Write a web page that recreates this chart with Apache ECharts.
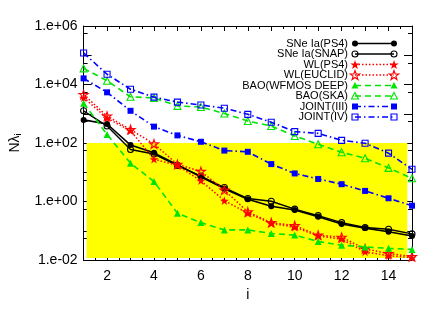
<!DOCTYPE html>
<html><head><meta charset="utf-8">
<script src="https://cdn.jsdelivr.net/npm/echarts@6/dist/echarts.min.js"></script>
<style>html,body{margin:0;padding:0;background:#fff}#c{width:436px;height:312px}</style>
</head><body><div id="c"></div>
<script>
// ---- data ----
const iValues = [1,2,3,4,5,6,7,8,9,10,11,12,13,14,15];
const seriesNames = ['SNe Ia(PS4)','SNe Ia(SNAP)','WL(PS4)','WL(EUCLID)','BAO(WFMOS DEEP)','BAO(SKA)','JOINT(III)','JOINT(IV)'];
const snePS4   = [617, 447, 85, 46, 18.2, 6.9, 2.75, 1.2, 0.69, 0.51, 0.30, 0.17, 0.123, 0.093, 0.066];
const sneSNAP  = [1260, 380, 60, 42, 17, 7.4, 3.0, 1.26, 1.02, 0.55, 0.33, 0.19, 0.129, 0.112, 0.078];
const wlPS4    = [3550, 708, 263, 28, 17, 5.1, 1.07, 0.40, 0.178, 0.132, 0.066, 0.052, 0.019, 0.014, 0.012];
const wlEUCLID = [4570, 832, 288, 93, 18.6, 10.7, 2.45, 0.44, 0.19, 0.15, 0.071, 0.060, 0.024, 0.0166, 0.0132];
const baoWFMOS = [2290, 195, 20.4, 4.8, 0.40, 0.19, 0.107, 0.107, 0.081, 0.071, 0.043, 0.032, 0.028, 0.025, 0.023];
const baoSKA   = [35500, 13500, 3800, 3470, 1860, 1700, 1020, 562, 380, 174, 91, 48, 30, 14.1, 6.2];
const joint3   = [16200, 5400, 1260, 363, 182, 110, 55, 50, 19, 9.1, 5.9, 3.9, 2.3, 1.29, 0.72];
const joint4   = [120000, 22400, 6900, 3700, 2500, 2000, 1550, 955, 513, 245, 214, 123, 98, 45, 12.6];
const yTickLabels = {'-2':'1.e-02','0':'1.e+00','2':'1.e+02','4':'1.e+04','6':'1.e+06'};
const xTickLabels = ['2','4','6','8','10','12','14'];
const bandX = [1.13, 14.8];
const bandY = [0.0118, 100];

// ---- styles ----
const STAR = 'path://M0,-10L2.245,-3.09L9.511,-3.09L3.633,1.18L5.878,8.09L0,3.82L-5.878,8.09L-3.633,1.18L-9.511,-3.09L-2.245,-3.09Z';
const RED = '#FF0000', GREEN = '#00E400', BLUE = '#0000FF';
const defs = [
  {data: snePS4,   color:'#000', dash:'solid', w:1.6, sym:'circle',   filled:true,  size:6},
  {data: sneSNAP,  color:'#000', dash:'solid', w:1.4, sym:'circle',   filled:false, size:6},
  {data: wlPS4,    color:RED,    dash:[1.5,2], w:1.5, sym:'star',     filled:true,  size:9},
  {data: wlEUCLID, color:RED,    dash:[1.5,2], w:1.5, sym:'star',     filled:false, size:9},
  {data: baoWFMOS, color:GREEN,  dash:[6,4],   w:1.6, sym:'triangle', filled:true,  size:7},
  {data: baoSKA,   color:GREEN,  dash:[6,4],   w:1.6, sym:'triangle', filled:false, size:7},
  {data: joint3,   color:BLUE,   dash:[6,3,1.5,3], w:1.6, sym:'rect', filled:true,  size:6},
  {data: joint4,   color:BLUE,   dash:[6,3,1.5,3], w:1.6, sym:'rect', filled:false, size:6}
];

const series = [{
  type:'line', data:[], silent:true, z:1,
  markArea:{silent:true, itemStyle:{color:'#FFFF00'},
    data:[[{coord:[bandX[0], bandY[0]]},{coord:[bandX[1], bandY[1]]}]]}
}];
defs.forEach((d,k)=>{
  series.push({
    name: seriesNames[k], type:'line', z: 3 + k,
    data: iValues.map((x,j)=>[x, d.data[j]]),
    symbol: d.sym === 'star' ? STAR : d.sym, symbolSize: d.size, symbolKeepAspect:true,
    showAllSymbol:true,
    lineStyle:{color:d.color, width:d.w, type:d.dash},
    itemStyle:{color: d.filled ? d.color : 'rgba(0,0,0,0)', borderColor:d.color, borderWidth: d.filled ? 0 : 1.1},
    emphasis:{disabled:true}
  });
});

// ---- legend (drawn) ----
function starPts(cx, cy, r){
  const p=[];
  for(let a=0;a<10;a++){const rr=a%2?r*0.4:r;const t=-Math.PI/2+a*Math.PI/5;p.push([cx+rr*Math.cos(t),cy+rr*Math.sin(t)]);}
  return p;
}
function legendSymbol(d, cx, cy){
  const style = {fill: d.filled ? d.color : 'none', stroke: d.color, lineWidth: d.filled ? 0 : 1.1};
  if(d.sym==='circle') return {type:'circle', shape:{cx, cy, r:3}, style};
  if(d.sym==='rect') return {type:'rect', shape:{x:cx-3, y:cy-3, width:6, height:6}, style};
  if(d.sym==='triangle') return {type:'polygon', shape:{points:[[cx,cy-3.5],[cx+3.5,cy+3],[cx-3.5,cy+3]]}, style};
  return {type:'polygon', shape:{points:starPts(cx, cy+0.5, 5)}, style};
}
const graphic = [];
defs.forEach((d,k)=>{
  const y = 43.5 + k*10.5;
  graphic.push({type:'text', z:50, style:{text:seriesNames[k], x:348, y:y, align:'right', verticalAlign:'middle',
    font:'11px "Liberation Sans", Arial, sans-serif', fill:'#000'}});
  graphic.push({type:'line', z:50, shape:{x1:355,y1:y,x2:394,y2:y},
    style:{stroke:d.color, lineWidth:d.w, lineDash: d.dash==='solid'? null : d.dash}});
  graphic.push(Object.assign(legendSymbol(d,355,y),{z:51}));
  graphic.push(Object.assign(legendSymbol(d,394,y),{z:51}));
});

const axisFont = {fontFamily:'"Liberation Sans", Arial, sans-serif', fontSize:14, color:'#000'};
const chart = echarts.init(document.getElementById('c'), null, {renderer:'canvas'});
chart.setOption({
  animation:false,
  backgroundColor:'#fff',
  grid:{left:82, right:24, top:26, bottom:52},
  xAxis:[{
    type:'value', min:1, max:15, interval:1,
    name:'i', nameLocation:'middle', nameGap:24, nameTextStyle:axisFont,
    axisLine:{lineStyle:{color:'#000', width:1}},
    axisTick:{inside:true, length:5, lineStyle:{color:'#000'}},
    minorTick:{show:true, splitNumber:2, length:3, lineStyle:{color:'#000'}},
    splitLine:{show:false},
    axisLabel:Object.assign({margin:9, formatter:v=> xTickLabels.indexOf(String(v))>=0 ? String(v) : ''}, axisFont)
  },{
    type:'value', min:1, max:15, interval:1, position:'top',
    axisLine:{lineStyle:{color:'#000', width:1}},
    axisTick:{inside:true, length:5, lineStyle:{color:'#000'}},
    minorTick:{show:true, splitNumber:2, length:3, lineStyle:{color:'#000'}},
    splitLine:{show:false}, axisLabel:{show:false}
  }],
  yAxis:[{
    type:'log', logBase:10, min:0.01, max:1e6, splitNumber:4,
    name:'Nλ{s|i}', nameLocation:'middle', nameGap:38, nameRotate:90,
    nameTextStyle:Object.assign({rich:{s:{fontSize:9, fontFamily:axisFont.fontFamily, padding:[8,0,0,0]}}}, axisFont),
    axisLine:{show:true, lineStyle:{color:'#000', width:1}},
    axisTick:{inside:true, length:8, lineStyle:{color:'#000'}},
    minorTick:{show:true, splitNumber:2, length:4, lineStyle:{color:'#000'}},
    splitLine:{show:false},
    axisLabel:Object.assign({margin:6, formatter:v=>{const e=String(Math.round(Math.log10(v)));return yTickLabels[e]||'';}}, axisFont)
  },{
    type:'log', logBase:10, min:0.01, max:1e6, splitNumber:4, position:'right',
    axisLine:{show:true, lineStyle:{color:'#000', width:1}},
    axisTick:{inside:true, length:8, lineStyle:{color:'#000'}},
    minorTick:{show:true, splitNumber:2, length:4, lineStyle:{color:'#000'}},
    splitLine:{show:false}, axisLabel:{show:false}
  }],
  series: series,
  graphic: graphic
});
</script></body></html>
